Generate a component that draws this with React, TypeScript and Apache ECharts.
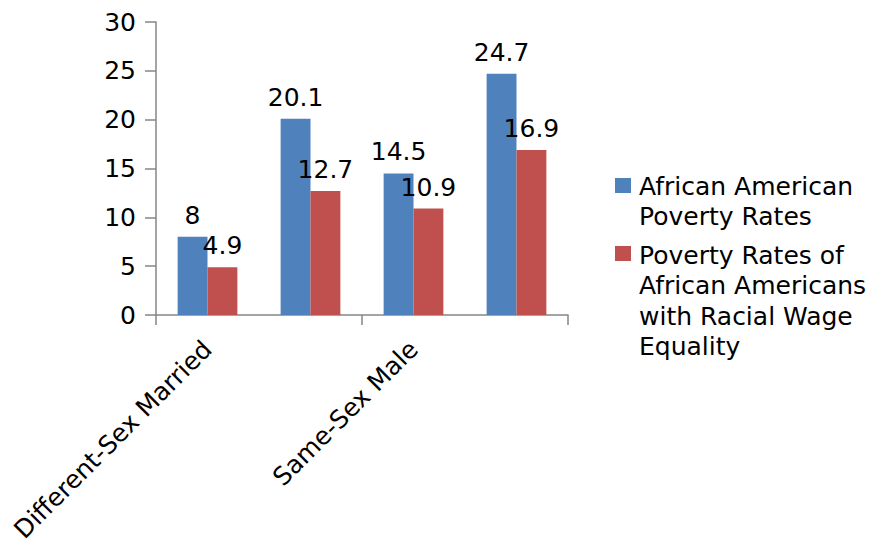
import React, { useEffect, useRef } from "react";
import * as echarts from "echarts";

const categories = [
  "Different-Sex Married",
  "Different-Sex Unmarried",
  "Same-Sex Male",
  "Same-Sex Female",
];
const seriesNames = [
  "African American Poverty Rates",
  "Poverty Rates of African Americans with Racial Wage Equality",
];
const legendLines = [
  "African American\nPoverty Rates",
  "Poverty Rates of\nAfrican Americans\nwith Racial Wage\nEquality",
];
const africanAmericanRates = [8, 20.1, 14.5, 24.7];
const wageEqualityRates = [4.9, 12.7, 10.9, 16.9];
const colors = ["#4F81BD", "#C0504D"];

const FONT = "'DejaVu Sans', sans-serif";
const FS = 25;

export default function App() {
  const ref = useRef<HTMLDivElement>(null);
  useEffect(() => {
    document.body.style.margin = "0";
    if (!ref.current) return;
    const chart = echarts.init(ref.current, null, { renderer: "svg" });
    const legendTops = [171, 240];
    const squareTops = [178, 246];
    const graphic: any[] = [];
    legendLines.forEach((txt, i) => {
      graphic.push({
        type: "rect",
        left: 615,
        top: squareTops[i],
        shape: { width: 16, height: 15 },
        style: { fill: colors[i] },
      });
      graphic.push({
        type: "text",
        left: 639,
        top: legendTops[i],
        style: {
          text: txt,
          font: `${FS}px ${FONT}`,
          fontSize: FS,
          fontFamily: FONT,
          lineHeight: 30.5,
          fill: "#000",
        },
      });
    });
    const labelStyle = {
      show: true,
      position: "top" as const,
      distance: 9,
      color: "#000",
      fontSize: FS,
      fontFamily: FONT,
    };
    chart.setOption({
      animation: false,
      textStyle: { fontFamily: FONT },
      grid: {
        left: 156,
        right: 306,
        top: 22,
        bottom: 224,
        containLabel: false,
        outerBoundsMode: "none",
      },
      xAxis: {
        type: "category",
        data: categories,
        boundaryGap: true,
        axisLine: { lineStyle: { color: "#868686", width: 1.5 } },
        axisTick: { show: true, length: 10, lineStyle: { color: "#868686", width: 1.5 } },
        axisLabel: {
          interval: 1,
          rotate: 45,
          margin: 30,
          color: "#000",
          fontSize: FS,
          fontFamily: FONT,
        },
      },
      yAxis: {
        type: "value",
        min: 0,
        max: 30,
        interval: 5,
        splitLine: { show: false },
        axisLine: { show: true, lineStyle: { color: "#868686", width: 1.5 } },
        axisTick: { show: true, length: 11, lineStyle: { color: "#868686", width: 1.5 } },
        axisLabel: { margin: 20, color: "#000", fontSize: FS, fontFamily: FONT },
      },
      series: [
        {
          name: seriesNames[0],
          type: "bar",
          data: africanAmericanRates,
          itemStyle: { color: colors[0] },
          barGap: "0%",
          barCategoryGap: "42%",
          label: labelStyle,
        },
        {
          name: seriesNames[1],
          type: "bar",
          data: wageEqualityRates,
          itemStyle: { color: colors[1] },
          barGap: "0%",
          barCategoryGap: "42%",
          label: labelStyle,
        },
      ],
      graphic,
    });
    return () => chart.dispose();
  }, []);
  return <div ref={ref} style={{ width: 874, height: 539 }} />;
}
